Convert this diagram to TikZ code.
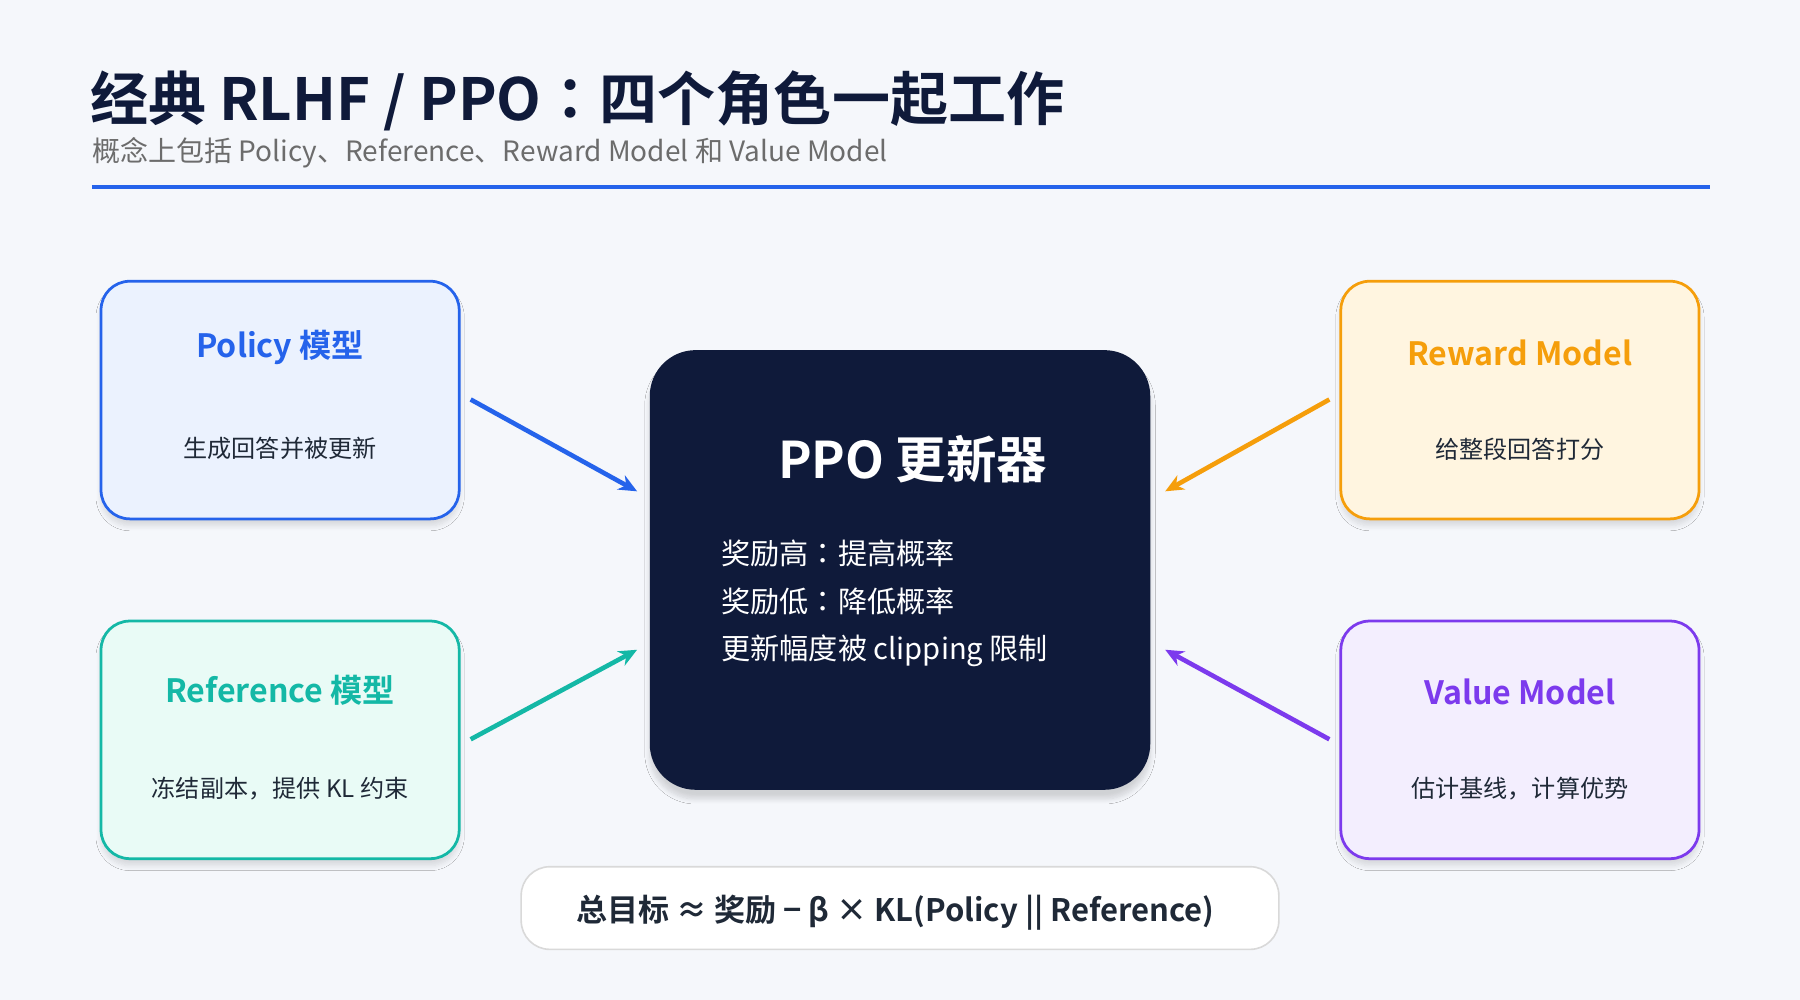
\documentclass[tikz,border=0pt]{standalone}
\usepackage{fontspec}
\setmainfont{Noto Sans CJK SC}[BoldFont={* Bold}]
\newfontfamily\tcfont{Noto Sans CJK TC}[BoldFont={* Bold}]
\newcommand{\ccolon}{{\tcfont ：}}
\usetikzlibrary{shadows.blur,arrows.meta}
\definecolor{bg}{HTML}{F5F7FB}
\definecolor{navy}{HTML}{0F1A3A}
\definecolor{cblue}{HTML}{2563EB}\definecolor{fblue}{HTML}{EBF2FE}
\definecolor{cteal}{HTML}{14B8A6}\definecolor{fteal}{HTML}{E9FBF6}
\definecolor{corange}{HTML}{F59E0B}\definecolor{forange}{HTML}{FFF5E0}
\definecolor{cpurple}{HTML}{7C3AED}\definecolor{fpurple}{HTML}{F3EEFE}
\definecolor{ctext}{HTML}{1F2937}
\begin{document}
\begin{tikzpicture}[x=0.5pt,y=-0.5pt,
 role/.style={draw=#1,line width=1.2pt,rounded corners=12.5pt,minimum width=156pt,minimum height=103.5pt,blur shadow={shadow blur steps=8,shadow xshift=0pt,shadow yshift=-3pt,shadow opacity=12}},
 rtitle/.style={font=\bfseries\fontsize{14}{16}\selectfont,text=#1},
 rdesc/.style={font=\fontsize{10.5}{12}\selectfont,text=ctext},
 arr/.style={draw=#1,line width=2pt,-{Stealth[length=8pt,width=7pt]}}]
\fill[bg] (0,0) rectangle (1568,871);
\useasboundingbox (0,0) rectangle (1568,871);
\node[anchor=base west,inner sep=0,font=\bfseries\fontsize{25.3}{30}\selectfont,text=navy] (title) at (78,105) {经典 RLHF / PPO\ccolon 四个角色一起工作};
\node[anchor=base west,inner sep=0,font=\fontsize{12.2}{14}\selectfont,text=gray!85!black] (sub) at (80,141) {概念上包括 Policy、Reference、Reward Model 和 Value Model};
\draw[cblue,line width=2pt] (80,163) coordinate (l1) -- (1490,163) coordinate (l2);
% role boxes
\node[role=cblue,fill=fblue] (pol) at (244,348.5) {};
\node[role=cteal,fill=fteal] (ref) at (244,644.5) {};
\node[role=corange,fill=forange] (rew) at (1324,348.5) {};
\node[role=cpurple,fill=fpurple] (val) at (1324,644.5) {};
\node[rtitle=cblue] (polt) at (244,303) {Policy 模型};
\node[rdesc] (pold) at (244,391) {生成回答并被更新};
\node[rtitle=cteal] (reft) at (244,601) {Reference 模型};
\node[rdesc] (refd) at (244,687) {冻结副本，提供 KL 约束};
\node[rtitle=corange] (rewt) at (1324,307) {Reward Model};
\node[rdesc] (rewd) at (1324,391) {给整段回答打分};
\node[rtitle=cpurple] (valt) at (1324,603) {Value Model};
\node[rdesc] (vald) at (1324,687) {估计基线，计算优势};
% center
\node[fill=navy,rounded corners=20pt,minimum width=218pt,minimum height=191.5pt,blur shadow={shadow blur steps=8,shadow xshift=0pt,shadow yshift=-4pt,shadow opacity=15}] (ppo) at (784,496.5) {};
\node[font=\bfseries\fontsize{22}{26}\selectfont,text=white] (ppot) at (795,400) {PPO 更新器};
\node[anchor=west,font=\fontsize{12.7}{15}\selectfont,text=white,inner sep=0] (p1) at (628,482) {奖励高\ccolon 提高概率};
\node[anchor=west,font=\fontsize{12.7}{15}\selectfont,text=white,inner sep=0] (p2) at (628,524) {奖励低\ccolon 降低概率};
\node[anchor=west,font=\fontsize{12.7}{15}\selectfont,text=white,inner sep=0] (p3) at (628,567) {更新幅度被 clipping 限制};
% arrows
\coordinate (a1) at (410,348); \coordinate (b1) at (555,428);
\coordinate (a2) at (410,644); \coordinate (b2) at (555,566);
\coordinate (a3) at (1158,348); \coordinate (b3) at (1015,428);
\coordinate (a4) at (1158,644); \coordinate (b4) at (1015,566);
\draw[arr=cblue] (a1) -- (b1);
\draw[arr=cteal] (a2) -- (b2);
\draw[arr=corange] (a3) -- (b3);
\draw[arr=cpurple] (a4) -- (b4);
% formula
\node[draw=gray!30,line width=0.7pt,fill=white,rounded corners=12.5pt,minimum width=330pt,minimum height=36pt] (fbox) at (784,791) {};
\node[font=\bfseries\fontsize{13.5}{16}\selectfont,text=ctext] (ft) at (780,795) {总目标 ≈ 奖励 − β × KL(Policy || Reference)};
\end{tikzpicture}
\end{document}
